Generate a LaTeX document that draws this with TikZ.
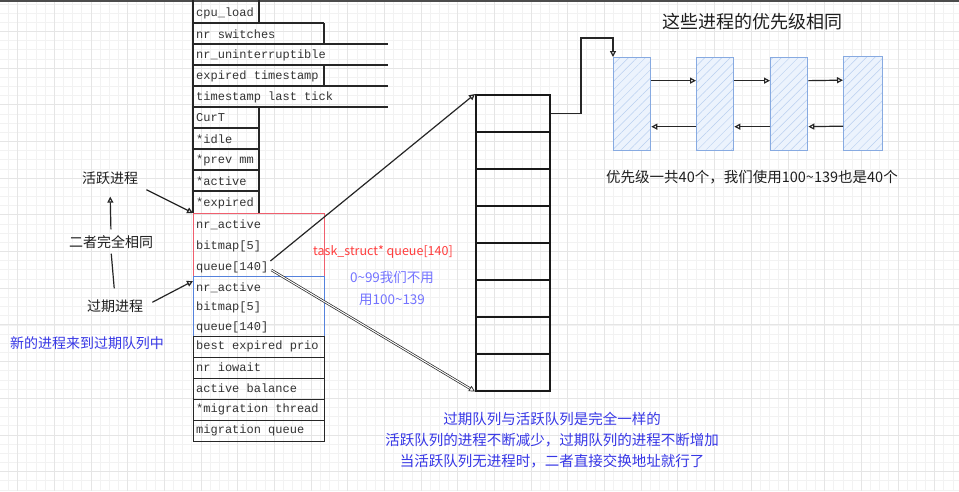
\documentclass[tikz,border=0pt]{standalone}
\usepackage{fontspec}
\setmainfont{Liberation Sans}
\newfontfamily\cjk{Noto Sans CJK SC}
\newfontfamily\monof{Liberation Mono}
\usetikzlibrary{arrows.meta,patterns.meta,calc}
\definecolor{redc}{RGB}{240,95,110}
\definecolor{bluec}{RGB}{85,130,220}
\definecolor{redtxt}{RGB}{255,60,60}
\definecolor{bluetxt}{RGB}{55,55,230}
\definecolor{violet}{RGB}{115,115,255}
\definecolor{lbc}{RGB}{135,170,225}
\definecolor{lbf}{RGB}{236,243,253}
\definecolor{lbh}{RGB}{185,207,240}
\definecolor{ink}{RGB}{30,30,30}
\begin{document}
\begin{tikzpicture}[x=1pt,y=-1pt,
  gmin/.style={black!5,line width=0.5pt},
  gmaj/.style={black!10,line width=0.5pt},
  tline/.style={black!85,line width=1.3pt},
  tt/.style={font=\monof\fontsize{12}{12}\selectfont,text=black!80,anchor=west,inner sep=0pt},
  lab/.style={font=\cjk\fontsize{14}{16}\selectfont,text=ink,inner sep=2pt},
  arr/.style={-{Triangle[open,length=6pt,width=6pt]},line width=1.2pt,black!85},
  plain/.style={line width=1.2pt,black!85},
  cell/.style={draw=black!90,line width=1.5pt,minimum width=74pt,minimum height=37pt,anchor=north west,inner sep=0pt},
  lbox/.style={preaction={fill=lbf},pattern={Lines[angle=45,distance=6pt,line width=0.5pt]},pattern color=lbh,draw=lbc,line width=1.3pt,minimum width=37pt,minimum height=93pt,anchor=north west,inner sep=0pt},
  qbox/.style={line width=1.3pt,minimum width=131pt,anchor=north west,inner sep=0pt}
]
\useasboundingbox (0,0) rectangle (959,491);
\fill[white] (0,0) rectangle (959,491);
% grid
\foreach \i in {0,...,104}{\pgfmathsetmacro\xx{8.3+9.17*\i}\draw[gmin] (\xx,0) -- (\xx,491);}
\foreach \i in {0,...,53}{\pgfmathsetmacro\yy{3.8+9.17*\i}\draw[gmin] (0,\yy) -- (959,\yy);}
\foreach \i in {0,...,26}{\pgfmathsetmacro\xx{17.5+36.68*\i}\draw[gmaj] (\xx,0) -- (\xx,491);}
\foreach \i in {0,...,13}{\pgfmathsetmacro\yy{31.3+36.68*\i}\draw[gmaj] (0,\yy) -- (959,\yy);}
\draw[black!70,line width=1.5pt] (0,0.75) -- (959,0.75);

% table lines (upper part)
\draw[tline] (193,0) -- (193,213);
\draw[tline] (193,23) -- (324,23);
\foreach \y in {44,65,86,107}{\draw[tline] (193,\y) -- (388,\y);}
\foreach \y in {128,149,170,191}{\draw[tline] (193,\y) -- (259,\y);}
\draw[tline] (259,0) -- (259,23);
\draw[tline] (324,23) -- (324,44);
\draw[tline] (324,65) -- (324,86);
\draw[tline] (259,107) -- (259,213);
% red and blue boxes
\node[qbox,draw=redc,minimum height=63pt] (redbox) at (193,213) {};
\node[qbox,draw=bluec,minimum height=60pt] (bluebox) at (193,276) {};
% lower rows
\foreach \y [count=\k] in {336,357,378,399,420}{\node[qbox,draw=black!85,minimum height=21pt] (row\k) at (193,\y) {};}

% table texts
\node[tt] (t1) at (196,13) {cpu\_load};
\node[tt] (t2) at (196,34) {nr switches};
\node[tt] (t3) at (196,55) {nr\_uninterruptible};
\node[tt] (t4) at (196,76) {expired timestamp};
\node[tt] (t5) at (196,97) {timestamp last tick};
\node[tt] (t6) at (196,118) {CurT};
\node[tt] (t7) at (196,139) {*idle};
\node[tt] (t8) at (196,160) {*prev mm};
\node[tt] (t9) at (196,181) {*active};
\node[tt] (t10) at (196,203) {*expired};
\node[tt] (ra) at (196,225) {nr\_active};
\node[tt] (rb) at (196,246) {bitmap[5]};
\node[tt] (rq) at (196,267) {queue[140]};
\node[tt] (ba) at (196,288) {nr\_active};
\node[tt] (bb) at (196,307) {bitmap[5]};
\node[tt] (bq) at (196,327) {queue[140]};
\node[tt] (t11) at (196,346) {best expired prio};
\node[tt] (t12) at (196,367) {nr iowait};
\node[tt] (t13) at (196,388) {active balance};
\node[tt] (t14) at (196,409) {*migration thread};
\node[tt] (t15) at (196,430) {migration queue};

% queue array
\foreach \y [count=\k] in {94,131,168,205,242,279,316,353}{\node[cell] (q\k) at (475,\y) {};}

% arrows to array
\draw[arr] ([xshift=2pt,yshift=6pt]rq.east) -- (q1.north west);
\draw[arr,double=white,double distance=1pt,line width=0.7pt] ([xshift=3pt,yshift=-3pt]rq.east) -- (q8.south west);

% red / violet texts
\node[font=\cjk\fontsize{12.5}{14}\selectfont,text=redtxt,inner sep=0pt] (ts) at (383,252) {task\_struct* queue[140]};
\node[font=\cjk\fontsize{13.5}{15}\selectfont,text=violet,inner sep=0pt] (nu1) at (392,277) {0\textasciitilde99我们不用};
\node[font=\cjk\fontsize{13.5}{15}\selectfont,text=violet,inner sep=0pt] (nu2) at (392,300) {用100\textasciitilde139};

% linked boxes
\node[lbox] (l1) at (613,57) {};
\node[lbox] (l2) at (696,57) {};
\node[lbox] (l3) at (770,57) {};
\node[lbox,minimum width=39pt,minimum height=94pt] (l4) at (843,56) {};
\coordinate (bend) at (581,38);
\draw[arr] (q1.east) -| (bend) -| (l1.north west);
\foreach \a/\b in {l1/l2,l2/l3,l3/l4}{
  \draw[arr] ([yshift=23.5pt]\a.east) -- ([yshift=23.5pt]\b.west);
  \draw[arr] ([yshift=-22.5pt]\b.west) -- ([yshift=-22.5pt]\a.east);
}
\node[font=\cjk\fontsize{18}{20}\selectfont,text=ink,inner sep=0pt] (title) at (752,22) {这些进程的优先级相同};
\node[font=\cjk\fontsize{14.5}{16}\selectfont,text=ink,inner sep=0pt] (sub) at (752,177) {优先级一共40个，我们使用100\textasciitilde139也是40个};

% left labels
\node[lab] (act) at (110,178) {活跃进程};
\node[lab] (same) at (111,242) {二者完全相同};
\node[lab] (exp) at (115,306) {过期进程};
\node[lab,text=bluetxt] (newq) at (87,343) {新的进程来到过期队列中};
\draw[arr,shorten <=7pt] (act.south east) -- (redbox.north west);
\draw[arr,shorten <=8pt] (exp.east) -- ([yshift=-5pt]bluebox.north west);
\draw[plain,shorten <=9pt,shorten >=3pt] (exp.north) -- (same.south);
\draw[arr,shorten <=4pt,shorten >=10pt] (same.north) -- (act.south);

% bottom text
\node[font=\cjk\fontsize{14.5}{21}\selectfont,text=bluetxt,align=center,inner sep=0pt] (note) at (552,440) {过期队列与活跃队列是完全一样的\\活跃队列的进程不断减少，过期队列的进程不断增加\\当活跃队列无进程时，二者直接交换地址就行了};
\end{tikzpicture}
\end{document}
